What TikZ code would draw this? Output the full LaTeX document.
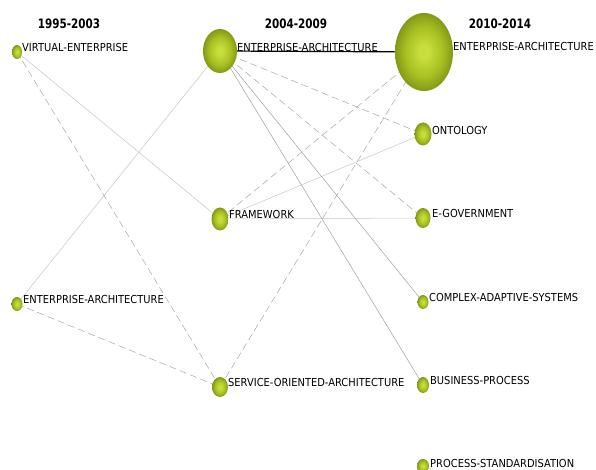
\documentclass[tikz,border=0pt]{standalone}
\usepackage{fontspec}
\usepackage{tikz}
\usepackage{tkz-euclide}
\usetikzlibrary{shapes.geometric}
\newfontfamily\labfont[FakeStretch=0.9]{DejaVu Sans}
\newfontfamily\yearfont[FakeStretch=0.8]{DejaVu Sans}
\definecolor{termLight}{RGB}{200,222,60}
\definecolor{termGreen}{RGB}{168,192,34}
\definecolor{termDark}{RGB}{108,126,14}
\pgfdeclareradialshading{termBall}{\pgfpoint{0bp}{0bp}}{color(0bp)=(termLight); color(4bp)=(termLight); color(16bp)=(termGreen); color(31bp)=(termDark); color(50bp)=(termDark)}

\begin{document}
\begin{tikzpicture}[x=1pt,y=-1pt,
    term/.style={ellipse,inner sep=0pt,shading=termBall},
    termText/.style={anchor=west,inner sep=0pt,font=\labfont\fontsize{11}{12}\selectfont},
    year/.style={inner sep=0pt,font=\yearfont\bfseries\fontsize{13}{15}\selectfont},
    weakLink/.style={color=gray!45,line width=0.5pt},
    midLink/.style={color=gray!75,line width=0.5pt},
    dashLink/.style={color=gray!70,line width=0.5pt,dash pattern=on 7pt off 4pt},
    strongLink/.style={color=black,line width=1.2pt}]
      \useasboundingbox (0,0) rectangle (596,470);
      % 1995-2003
      \tkzDefPoint(17,52){veOld}
      \tkzDefPoint(17,304){eaOld}
      % 2004-2009
      \tkzDefPoint(220,51){eaMid}
      \tkzDefPoint(220,219){frameMid}
      \tkzDefPoint(220,387){soaMid}
      % 2010-2014
      \tkzDefPoint(424,52){eaNew}
      \tkzDefPoint(423,134){ontoNew}
      \tkzDefPoint(423,218){egovNew}
      \tkzDefPoint(423,302){casNew}
      \tkzDefPoint(423,385){bpNew}
      \tkzDefPoint(423,466){psNew}
      %links
      \tkzDrawSegments[weakLink](veOld,frameMid eaOld,eaMid frameMid,ontoNew frameMid,egovNew)
      \tkzDrawSegments[midLink](eaMid,casNew eaMid,bpNew)
      \tkzDrawSegments[dashLink](veOld,soaMid eaOld,soaMid eaMid,ontoNew eaMid,egovNew frameMid,eaNew soaMid,eaNew)
      \tkzDrawSegment[strongLink](eaMid,eaNew)
      %terms
      \node[term,minimum width=10pt,minimum height=14pt] (veDot) at (veOld) {};
      \node[term,minimum width=11pt,minimum height=14pt] (eaOldDot) at (eaOld) {};
      \node[term,minimum width=34pt,minimum height=44pt] (eaMidDot) at (eaMid) {};
      \node[term,minimum width=17pt,minimum height=23pt] (frameDot) at (frameMid) {};
      \node[term,minimum width=16pt,minimum height=20pt] (soaDot) at (soaMid) {};
      \node[term,minimum width=58pt,minimum height=78pt] (eaNewDot) at (eaNew) {};
      \node[term,minimum width=17pt,minimum height=23pt] (ontoDot) at (ontoNew) {};
      \node[term,minimum width=15pt,minimum height=20pt] (egovDot) at (egovNew) {};
      \node[term,minimum width=11pt,minimum height=14pt] (casDot) at (casNew) {};
      \node[term,minimum width=12pt,minimum height=16pt] (bpDot) at (bpNew) {};
      \node[term,minimum width=12pt,minimum height=14pt] (psDot) at (psNew) {};
      %labels
      \node[termText] (veTxt) at (22,47) {VIRTUAL-ENTERPRISE};
      \node[termText] (eaOldTxt) at (23,299) {ENTERPRISE-ARCHITECTURE};
      \node[termText] (eaMidTxt) at (237,47) {ENTERPRISE-ARCHITECTURE};
      \node[termText] (frameTxt) at (229,214) {FRAMEWORK};
      \node[termText] (soaTxt) at (228,382) {SERVICE-ORIENTED-ARCHITECTURE};
      \node[termText] (eaNewTxt) at (453,46) {ENTERPRISE-ARCHITECTURE};
      \node[termText] (ontoTxt) at (432,130) {ONTOLOGY};
      \node[termText] (egovTxt) at (432,213) {E-GOVERNMENT};
      \node[termText] (casTxt) at (429,297) {COMPLEX-ADAPTIVE-SYSTEMS};
      \node[termText] (bpTxt) at (430,380) {BUSINESS-PROCESS};
      \node[termText] (psTxt) at (430,463) {PROCESS-STANDARDISATION};
      %periods
      \node[year] (yearOne) at (69,24) {1995-2003};
      \node[year] (yearTwo) at (296,24) {2004-2009};
      \node[year] (yearThree) at (500,24) {2010-2014};
\end{tikzpicture}
\end{document}
